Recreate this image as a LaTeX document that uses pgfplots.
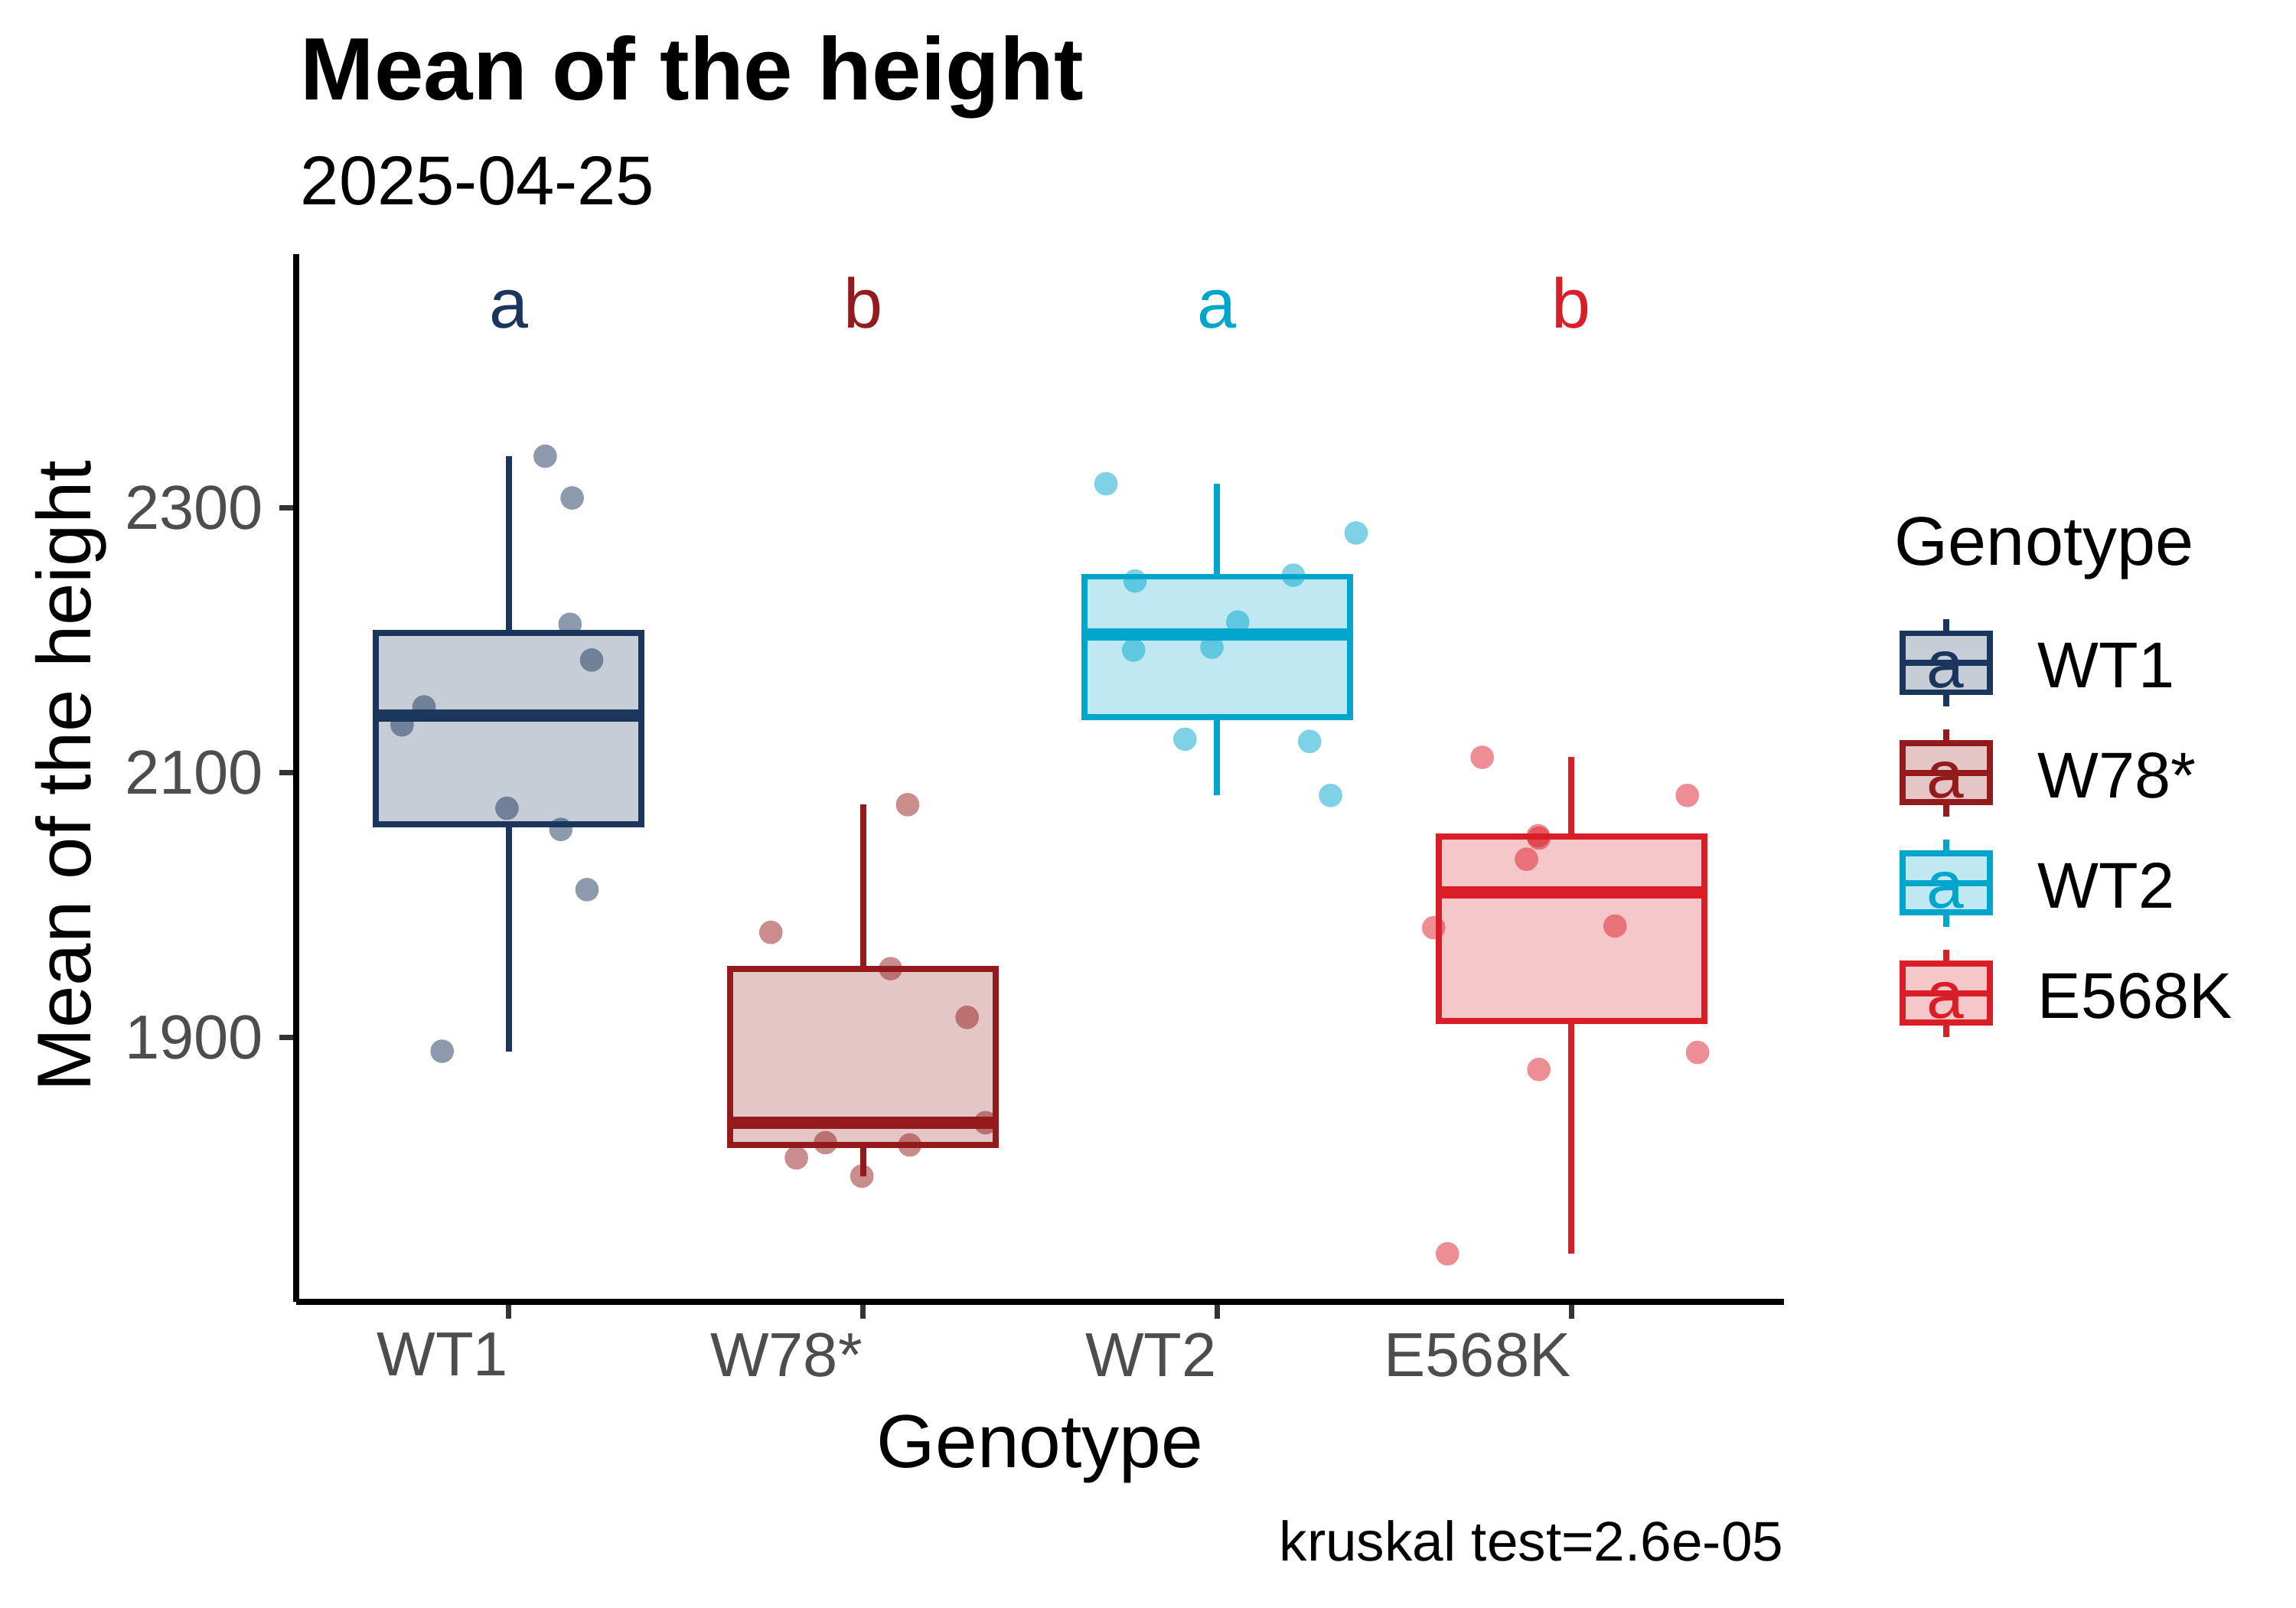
\documentclass[border=0pt]{standalone}
\usepackage{pgfplots}
\pgfplotsset{compat=1.18}
\usepackage{fontspec}
\setmainfont{Liberation Sans}
\definecolor{cWT1}{HTML}{1B365D}
\definecolor{cW78}{HTML}{931B1E}
\definecolor{cWT2}{HTML}{00A5CC}
\definecolor{cE568K}{HTML}{DA1E28}
\definecolor{gray30}{HTML}{4D4D4D}
\definecolor{gray20}{HTML}{333333}

\pgfplotstableread{
x y
1.103 2339
1.179 2307.5
1.173 2212
1.234 2185
0.761 2149.6
0.699 2136
0.995 2073
1.147 2057
1.221 2011.5
0.812 1889.4
}\ptsWTa
\pgfplotstableread{
x y
2.126 2075.7
1.740 1979.2
2.078 1951.8
2.294 1915
2.346 1835.4
1.894 1820.3
2.132 1818.6
1.812 1808.8
1.997 1795
}\ptsW
\pgfplotstableread{
x y
2.686 2318.2
3.392 2281
2.768 2244.7
3.215 2249.1
3.058 2213.7
2.764 2192.5
2.985 2194.7
2.909 2125.2
3.261 2123.5
3.320 2082.7
}\ptsWTb
\pgfplotstableread{
x y
3.748 2111.5
4.327 2082.7
3.906 2052.2
3.908 2050.4
3.873 2034.5
3.611 1982.7
4.123 1984
3.908 1875.6
4.356 1888.5
3.650 1736.3
}\ptsE

\pgfplotsset{
  pts/.style={only marks, mark=*, mark size=3.67pt,
    mark options={fill=#1, draw opacity=0, fill opacity=0.5}},
}
% box: colour, position, lower whisker, lower quartile, median, upper quartile, upper whisker
\newcommand\gbox[7]{%
  \addplot[draw=#1, fill=#1, fill opacity=0.25, line width=1.9pt]
    coordinates {(#2-0.375,#4) (#2+0.375,#4) (#2+0.375,#6) (#2-0.375,#6)} -- cycle;
  \addplot[draw=#1, line width=1.9pt] coordinates {(#2,#6) (#2,#7)};
  \addplot[draw=#1, line width=1.9pt] coordinates {(#2,#3) (#2,#4)};
  \addplot[draw=#1, line width=3.9pt] coordinates {(#2-0.375,#5) (#2+0.375,#5)};
}

\begin{document}
\begin{tikzpicture}
\path[use as bounding box] (0,0) rectangle (720pt,504pt);
\begin{axis}[
  at={(92.88pt,95.76pt)}, anchor=south west,
  scale only axis, width=466.56pt, height=328.66pt,
  xmin=0.4, xmax=4.6, ymin=1700, ymax=2492,
  axis x line*=bottom, axis y line*=left,
  axis line style={line width=2pt, black},
  xtick={1,2,3,4}, xticklabels={WT1,W78*,WT2,E568K},
  ytick={1900,2100,2300},
  tick align=outside, major tick length=5.28pt,
  tick style={line width=1.7pt, color=gray20},
  xticklabel style={anchor=north east, inner sep=0pt, font=\fontsize{19.5}{20}\selectfont, text=gray30},
  yticklabel style={anchor=east, inner sep=0pt, font=\fontsize{19.5}{20}\selectfont, text=gray30},
  xticklabel shift=4.2pt, yticklabel shift=4.8pt,
  /pgf/number format/assume math mode=true,
  /pgf/number format/1000 sep={},
  clip=false,
]
\gbox{cWT1}{1}{1889.4}{2061}{2142.8}{2205.25}{2339}
\gbox{cW78}{2}{1795}{1818.6}{1835.4}{1951.8}{2075.7}
\gbox{cWT2}{3}{2082.7}{2142}{2204.2}{2248}{2318.2}
\gbox{cE568K}{4}{1736.3}{1912}{2009.25}{2051.75}{2111.5}

\addplot[pts=cWT1] table[x=x,y=y] {\ptsWTa};
\addplot[pts=cW78] table[x=x,y=y] {\ptsW};
\addplot[pts=cWT2] table[x=x,y=y] {\ptsWTb};
\addplot[pts=cE568K] table[x=x,y=y] {\ptsE};

\node[anchor=base, inner sep=0pt, font=\fontsize{22}{24}\selectfont, text=cWT1] at (axis cs:1,2436) {a};
\node[anchor=base, inner sep=0pt, font=\fontsize{22}{24}\selectfont, text=cW78] at (axis cs:2,2436) {b};
\node[anchor=base, inner sep=0pt, font=\fontsize{22}{24}\selectfont, text=cWT2] at (axis cs:3,2436) {a};
\node[anchor=base, inner sep=0pt, font=\fontsize{22}{24}\selectfont, text=cE568K] at (axis cs:4,2436) {b};
\end{axis}

\begin{scope}[x=0.24pt, y=0.24pt]
\node[anchor=base west, inner sep=0pt, font=\fontsize{27.8}{30}\selectfont\bfseries] at (392,1969) {Mean of the height};
\node[anchor=base west, inner sep=0pt, font=\fontsize{21.7}{24}\selectfont] at (392,1832) {2025-04-25};
\node[anchor=base, inner sep=0pt, font=\fontsize{23.6}{26}\selectfont] at (1359,183) {Genotype};
\node[anchor=base, inner sep=0pt, rotate=90, font=\fontsize{23.9}{26}\selectfont] at (118,1086) {Mean of the height};
\node[anchor=base east, inner sep=0pt, font=\fontsize{17.5}{19}\selectfont] at (2331,61) {kruskal test=2.6e-05};
\node[anchor=base west, inner sep=0pt, font=\fontsize{21.6}{23}\selectfont] at (2475,1361) {Genotype};
\foreach \c/\lab/\k in {cWT1/WT1/0, cW78/W78*/1, cWT2/WT2/2, cE568K/E568K/3} {
  \pgfmathsetmacro{\cy}{1234-143.9*\k}
  \pgfmathsetmacro{\by}{1201.5-143.9*\k}
  \fill[\c, fill opacity=0.25] (2486,\cy-38.5) rectangle (2600,\cy+38.5);
  \draw[\c, line width=1.9pt] (2543,\cy+38.5) -- (2543,\cy+57);
  \draw[\c, line width=1.9pt] (2543,\cy-38.5) -- (2543,\cy-57);
  \draw[\c, line width=1.9pt] (2486,\cy) -- (2600,\cy);
  \draw[\c, line width=1.9pt] (2486,\cy-38.5) rectangle (2600,\cy+38.5);
  \node[anchor=base, inner sep=0pt, font=\fontsize{21}{23}\selectfont, text=\c] at (2542,\by) {a};
  \node[anchor=base west, inner sep=0pt, font=\fontsize{20.3}{23}\selectfont] at (2662,\by) {\lab};
}
\end{scope}
\end{tikzpicture}
\end{document}
